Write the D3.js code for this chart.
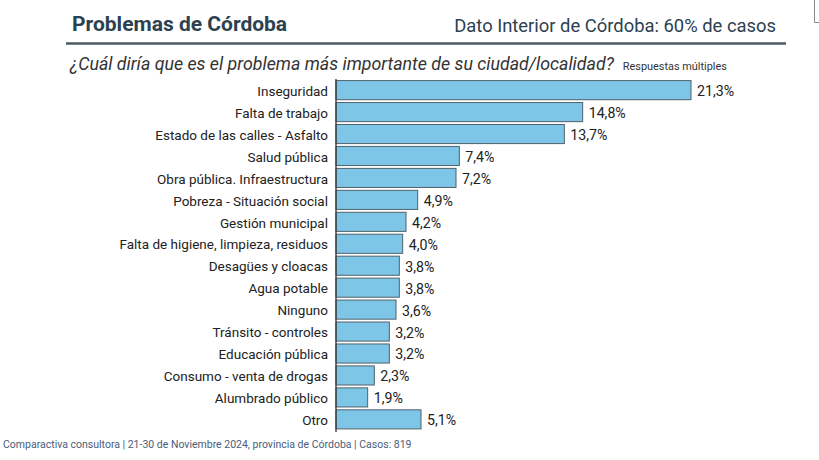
<!DOCTYPE html>
<html>
<head>
<meta charset="utf-8">
<script src="https://cdn.jsdelivr.net/npm/d3@7"></script>
<style>
  body { margin: 0; background: #fff; }
  svg { display: block; }
</style>
</head>
<body>
<div id="chart"></div>
<script>
// datos
var categorias = ["Inseguridad", "Falta de trabajo", "Estado de las calles - Asfalto", "Salud pública",
  "Obra pública. Infraestructura", "Pobreza - Situación social", "Gestión municipal",
  "Falta de higiene, limpieza, residuos", "Desagües y cloacas", "Agua potable", "Ninguno",
  "Tránsito - controles", "Educación pública", "Consumo - venta de drogas", "Alumbrado público", "Otro"];
var valores = [21.3, 14.8, 13.7, 7.4, 7.2, 4.9, 4.2, 4.0, 3.8, 3.8, 3.6, 3.2, 3.2, 2.3, 1.9, 5.1];

var w = 819, h = 460;
var font = "Roboto, 'Liberation Sans', sans-serif";

var svg = d3.select("#chart").append("svg")
  .attr("width", w).attr("height", h);

// encabezado
svg.append("text").attr("x", 72).attr("y", 31)
  .attr("font-family", font).attr("font-size", 21).attr("font-weight", "bold")
  .attr("fill", "#2c4150").text("Problemas de Córdoba");
svg.append("text").attr("x", 776).attr("y", 32).attr("text-anchor", "end")
  .attr("font-family", font).attr("font-size", 18.4).attr("fill", "#2c4150")
  .text("Dato Interior de Córdoba: 60% de casos");
svg.append("line").attr("x1", 66).attr("x2", 786).attr("y1", 43.5).attr("y2", 43.5)
  .attr("stroke", "#4b5b66").attr("stroke-width", 2.5);

// esquina recortada arriba a la derecha
svg.append("path").attr("d", "M814.5,0 V22.5 H819")
  .attr("fill", "none").attr("stroke", "#888").attr("stroke-width", 1);

var preg = svg.append("text").attr("x", 70).attr("y", 70)
  .attr("font-family", font).attr("fill", "#333");
preg.append("tspan").attr("font-size", 17.8).attr("font-style", "italic")
  .text("¿Cuál diría que es el problema más importante de su ciudad/localidad?");
preg.append("tspan").attr("font-size", 10.9).attr("dx", 9).text("Respuestas múltiples");

// barras
var x = d3.scaleLinear().domain([0, 21.3]).range([336, 691]);
var y = d3.scaleBand().domain(categorias).range([79.5, 430]).paddingInner(0.13).paddingOuter(0.05);

var g = svg.append("g");
g.selectAll("rect").data(valores).enter().append("rect")
  .attr("x", x(0))
  .attr("y", function(d, i) { return y(categorias[i]); })
  .attr("width", function(d) { return x(d) - x(0); })
  .attr("height", y.bandwidth())
  .attr("fill", "#7ec6e8")
  .attr("stroke", "#51616b").attr("stroke-width", 1);

g.selectAll("text.val").data(valores).enter().append("text")
  .attr("class", "val")
  .attr("x", function(d) { return x(d) + 6; })
  .attr("y", function(d, i) { return y(categorias[i]) + y.bandwidth() / 2 + 1; })
  .attr("dy", "0.35em")
  .attr("font-family", font).attr("font-size", 14.2).attr("fill", "#222")
  .text(function(d) { return d.toFixed(1).replace(".", ",") + "%"; });

var eje = svg.append("g").attr("transform", "translate(" + x(0) + ",0)")
  .call(d3.axisLeft(y).tickSize(0).tickPadding(8));
eje.select(".domain").attr("stroke", "#333").attr("stroke-width", 1.3)
  .attr("d", "M0,79V432");
eje.selectAll("text").attr("font-family", font).attr("font-size", 13.5).attr("fill", "#222")
  .attr("dy", "0.42em");

// pie
svg.append("text").attr("x", 3).attr("y", 448)
  .attr("font-family", font).attr("font-size", 10.5).attr("fill", "#4a5d78")
  .text("Comparactiva consultora | 21-30 de Noviembre 2024, provincia de Córdoba | Casos: 819");
</script>
</body>
</html>
